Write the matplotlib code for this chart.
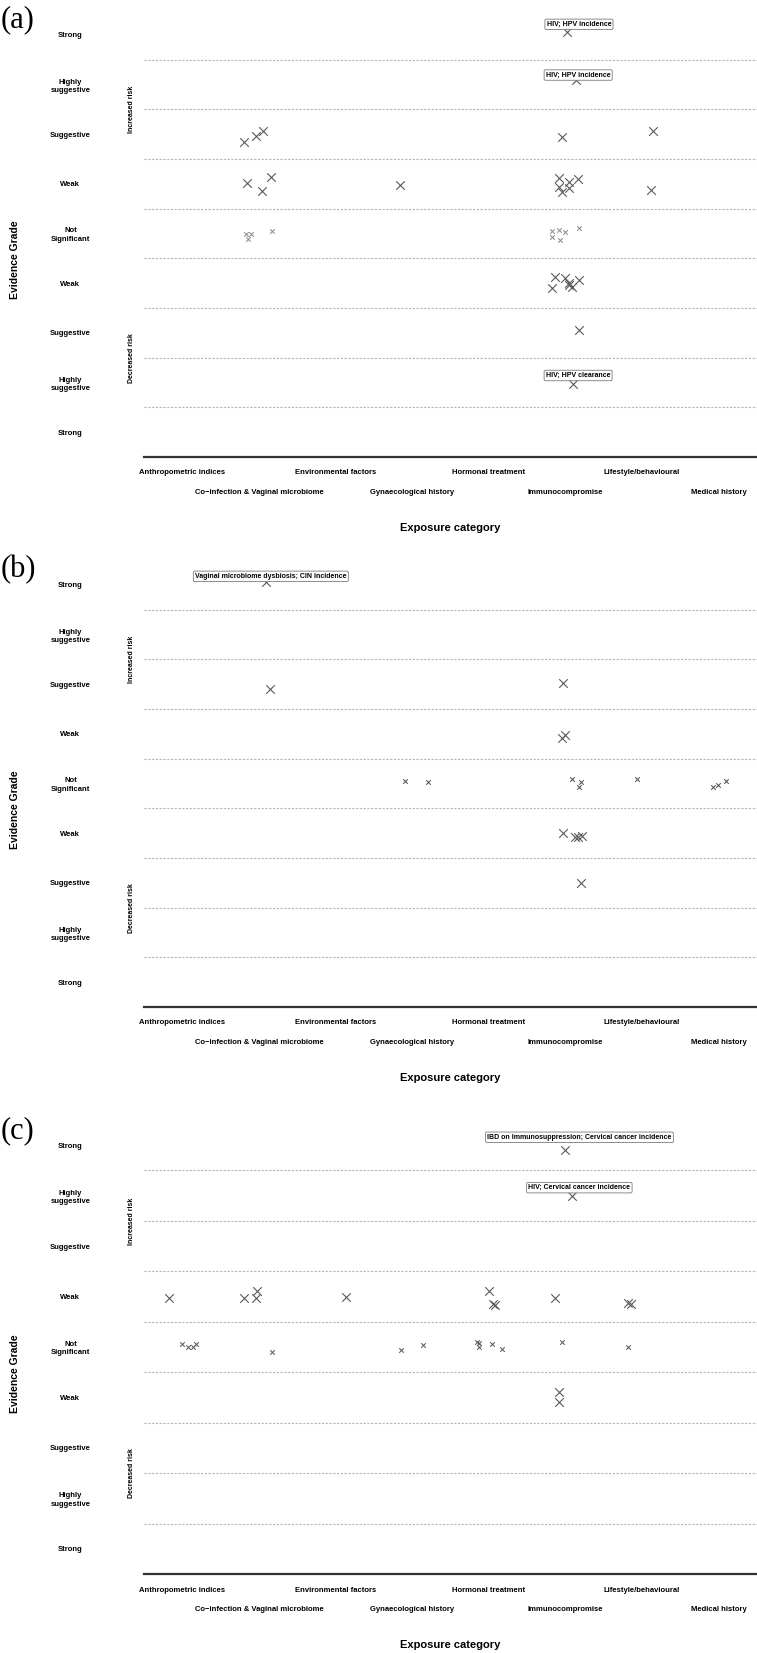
import matplotlib
matplotlib.use('Agg')
import matplotlib.pyplot as plt
import numpy as np

W, H = 757, 1653
plt.rcParams['font.family'] = ['Liberation Sans Narrow', 'Liberation Sans', 'DejaVu Sans']

categories = ['Anthropometric indices', 'Co\u2212infection & Vaginal microbiome', 'Environmental factors',
              'Gynaecological history', 'Hormonal treatment', 'Immunocompromise',
              'Lifestyle/behavioural', 'Medical history']
grade_labels = ['Strong', 'Highly\nsuggestive', 'Suggestive', 'Weak', 'Not\nSignificant',
                'Weak', 'Suggestive', 'Highly\nsuggestive', 'Strong']
grade_values = [4, 3, 2, 1, 0, -1, -2, -3, -4]

# panel (a): category index, jitter, grade position
a_cat = [5, 5,
         1, 1, 1, 5, 6,
         1, 1, 1, 3, 5, 5, 5, 5, 5, 5, 6,
         1, 1, 1, 1, 5, 5, 5, 5, 5, 5,
         5, 5, 5, 5, 5, 5, 5,
         5, 5]
a_dx = [0.02, 0.14,
        -0.20, -0.04, 0.05, -0.05, 0.14,
        -0.16, 0.04, 0.16, -0.16, -0.09, 0.05, 0.17, -0.08, -0.05, 0.04, 0.12,
        -0.17, -0.10, -0.14, 0.17, -0.17, -0.09, -0.01, 0.18, -0.17, -0.07,
        -0.14, -0.01, 0.05, 0.04, 0.09, 0.18, -0.17,
        0.18, 0.10]
a_y = [4.05, 3.09,
       1.84, 1.96, 2.06, 1.94, 2.06,
       1.02, 0.86, 1.14, 0.98, 1.12, 1.04, 1.10, 0.94, 0.84, 0.92, 0.88,
       0.00, 0.00, -0.12, 0.06, 0.06, 0.08, 0.04, 0.12, -0.08, -0.14,
       -0.88, -0.90, -1.00, -1.04, -1.08, -0.94, -1.10,
       -1.94, -3.04]
a_notes = {0: 'HIV; HPV incidence', 1: 'HIV; HPV incidence', 36: 'HIV; HPV clearance'}

# panel (b)
b_cat = [1,
         1, 5,
         5, 5,
         3, 3, 5, 5, 5, 6, 7, 7, 7,
         5, 5, 5, 5,
         5]
b_dx = [0.09,
        0.14, -0.03,
        -0.01, -0.04,
        -0.09, 0.20, 0.08, 0.20, 0.18, -0.07, -0.07, -0.01, 0.10,
        -0.03, 0.12, 0.21, 0.17,
        0.20]
b_y = [4.05,
       1.90, 2.02,
       0.97, 0.91,
       0.06, 0.04, 0.10, 0.04, -0.08, 0.10, -0.08, -0.04, 0.06,
       -1.00, -1.08, -1.06, -1.07,
       -2.00]
b_notes = {0: 'Vaginal microbiome dysbiosis; CIN incidence'}

# panel (c)
c_cat = [5, 5,
         0, 1, 1, 1, 2, 4, 4, 4, 5, 6, 6,
         0, 0, 0, 0, 1, 3, 3, 4, 4, 4, 4, 4, 5, 6,
         5, 5]
c_dx = [0.00, 0.09,
        -0.18, -0.20, -0.03, -0.04, 0.14, 0.00, 0.05, 0.08, -0.14, -0.18, -0.14,
        0.00, 0.08, 0.14, 0.18, 0.17, -0.15, 0.14, -0.16, -0.13, -0.13, 0.04, 0.17, -0.05, -0.18,
        -0.08, -0.08]
c_y = [3.90, 3.00,
       0.98, 0.98, 1.12, 0.98, 1.00, 1.12, 0.86, 0.84, 0.98, 0.88, 0.86,
       0.06, 0.00, 0.00, 0.06, -0.10, -0.06, 0.04, 0.10, 0.08, 0.00, 0.06, -0.04, 0.10, 0.00,
       -0.90, -1.10]
c_notes = {0: 'IBD on Immunosuppression; Cervical cancer incidence', 1: 'HIV; Cervical cancer incidence'}

# label box offsets from the point, in pixels (right, up)
note_offsets = {
    'a': {0: (12, 8), 1: (2, 5), 36: (5, 9)},
    'b': {0: (5, 6)},
    'c': {0: (14, 13), 1: (7, 8)},
}
# small (not significant) marker colour per panel
ns_colour = {'a': '#909090', 'b': '#555555', 'c': '#5e5e5e'}

# pixel layout: (axes top, axes bottom, letter y)
panels = [('a', 10, 457, 20, a_cat, a_dx, a_y, a_notes),
          ('b', 560, 1007, 570, b_cat, b_dx, b_y, b_notes),
          ('c', 1120, 1574, 1131, c_cat, c_dx, c_y, c_notes)]

fig = plt.figure(figsize=(W / 100, H / 100), dpi=100)
left, right = 144, 757
bold = dict(fontweight='bold')

for key, top, bottom, letter_y, cat, dx, yv, notes in panels:
    ax = fig.add_axes([left / W, 1 - bottom / H, (right - left) / W, (bottom - top) / H])
    h_px = bottom - top
    ax.set_xlim(-0.5, 7.5)
    ax.set_ylim(-4.5, 4.5)

    for yl in [3.5, 2.5, 1.5, 0.5, -0.5, -1.5, -2.5, -3.5]:
        ax.axhline(yl, color='#b5b5b5', lw=0.8, ls=(0, (2, 1.4)), zorder=1)

    x = np.array(cat) + np.array(dx)
    y = np.array(yv)
    ns = np.abs(y) < 0.5
    ax.scatter(x[~ns], y[~ns], marker='x', s=38, c='#5a5a5a', linewidths=0.8, zorder=3)
    ax.scatter(x[ns], y[ns], marker='x', s=11, c=ns_colour[key], linewidths=0.75, zorder=3)

    for i, txt in notes.items():
        ox, oy = note_offsets[key][i]
        ax.annotate(txt, (x[i], y[i]), xytext=(ox * 0.72, oy * 0.72), textcoords='offset points',
                    ha='center', va='center', fontsize=5, fontweight='bold', zorder=4,
                    bbox=dict(boxstyle='round,pad=0.25,rounding_size=0.2', fc='white', ec='#7a7a7a', lw=0.6))

    for s in ['top', 'right', 'left']:
        ax.spines[s].set_visible(False)
    ax.spines['bottom'].set_color('#333333')
    ax.spines['bottom'].set_linewidth(1.6)

    ax.set_yticks(grade_values, grade_labels, fontsize=5.5, fontweight='bold', linespacing=1.3)
    ax.tick_params(axis='y', length=0, pad=53)
    for lab in ax.get_yticklabels():
        lab.set_ha('center')

    ax.set_xticks(range(len(categories)), categories, fontsize=5.5, fontweight='bold')
    ax.tick_params(axis='x', length=0)
    for i, t in enumerate(ax.xaxis.get_major_ticks()):
        t.set_pad(9 if i % 2 == 0 else 22.7)

    ax.annotate('Increased risk', (0, 2.5), xycoords=('axes fraction', 'data'), xytext=(-9, 0),
                textcoords='offset points', rotation=90, ha='center', va='center', fontsize=5, **bold)
    ax.annotate('Decreased risk', (0, -2.5), xycoords=('axes fraction', 'data'), xytext=(-9, 0),
                textcoords='offset points', rotation=90, ha='center', va='center', fontsize=5, **bold)

    ax.text(0.5, -71 / h_px, 'Exposure category', transform=ax.transAxes, ha='center', va='center',
            fontsize=8, family=['Liberation Sans', 'DejaVu Sans'], **bold)
    fig.text(15 / W, 1 - (top + 250 * h_px / 447) / H, 'Evidence Grade', rotation=90, ha='center',
             va='center', fontsize=7.5, family=['Liberation Sans', 'DejaVu Sans'], **bold)
    fig.text(1 / W, 1 - letter_y / H, '(%s)' % key, ha='left', va='center', fontsize=22,
             family=['Liberation Serif', 'DejaVu Serif'])

fig.savefig('out.png', dpi=100)
